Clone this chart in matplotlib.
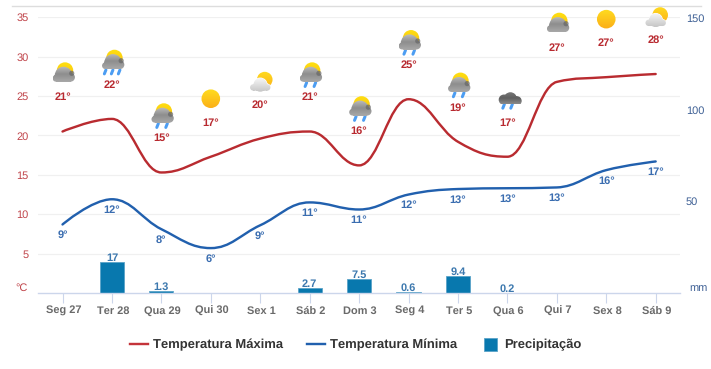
import numpy as np
import matplotlib
matplotlib.use("Agg")
import matplotlib.pyplot as plt
from matplotlib.colors import LinearSegmentedColormap
from matplotlib.lines import Line2D
from matplotlib.patches import Circle, PathPatch
from matplotlib.path import Path
from matplotlib.transforms import Affine2D

days = ["Seg 27", "Ter 28", "Qua 29", "Qui 30", "Sex 1", "Sáb 2", "Dom 3",
        "Seg 4", "Ter 5", "Qua 6", "Qui 7", "Sex 8", "Sáb 9"]
temp_max = [20.5, 22.1, 15.3, 17.3, 19.6, 20.5, 16.2, 24.6, 19.2, 17.3, 26.8, 27.4, 27.8]
temp_min = [8.7, 11.9, 8.1, 5.7, 8.6, 11.5, 10.6, 12.5, 13.2, 13.3, 13.4, 15.6, 16.7]
label_max = [21, 22, 15, 17, 20, 21, 16, 25, 19, 17, 27, 27, 28]
label_min = [9, 12, 8, 6, 9, 11, 11, 12, 13, 13, 13, 16, 17]
precip = [0, 17, 1.3, 0, 0, 2.7, 7.5, 0.6, 9.4, 0.2, 0, 0, 0]
precip_labels = ["", "17", "1.3", "", "", "2.7", "7.5", "0.6", "9.4", "0.2", "", "", ""]
icons = ["gray", "rain3", "rain2", "sun", "white", "rain2", "rain2",
         "rain2", "rain2", "dark", "gray", "sun", "white"]
temp_ticks = [5, 10, 15, 20, 25, 30, 35]
precip_ticks = [50, 100, 150]

RED = "#b92b30"
BLUE = "#2160ae"
BAR = "#0878ae"
W, H = 711, 369
PX = 0.72
FONT = "Liberation Sans"
plt.rcParams["font.family"] = [FONT, "DejaVu Sans"]
plt.rcParams["text.hinting"] = "no_hinting"
plt.rcParams["text.hinting_factor"] = 1


def spline(xs, ys):
    """Highcharts-like bezier spline through the points."""
    n = len(xs)
    lc, rc = [None] * n, [None] * n
    for i in range(1, n - 1):
        x, y = xs[i], ys[i]
        lx, ly = (1.5 * x + xs[i - 1]) / 2.5, (1.5 * y + ys[i - 1]) / 2.5
        rx, ry = (1.5 * x + xs[i + 1]) / 2.5, (1.5 * y + ys[i + 1]) / 2.5
        c = (ry - ly) * (rx - x) / (rx - lx) + y - ry
        ly += c
        ry += c
        if ly > ys[i - 1] and ly > y:
            ly = max(ys[i - 1], y)
            ry = 2 * y - ly
        elif ly < ys[i - 1] and ly < y:
            ly = min(ys[i - 1], y)
            ry = 2 * y - ly
        if ry > ys[i + 1] and ry > y:
            ry = max(ys[i + 1], y)
            ly = 2 * y - ry
        elif ry < ys[i + 1] and ry < y:
            ry = min(ys[i + 1], y)
            ly = 2 * y - ry
        lc[i], rc[i] = (lx, ly), (rx, ry)
    verts = [(xs[0], ys[0])]
    codes = [Path.MOVETO]
    for i in range(1, n):
        a = rc[i - 1] if rc[i - 1] else (xs[i - 1], ys[i - 1])
        b = lc[i] if lc[i] else (xs[i], ys[i])
        verts += [a, b, (xs[i], ys[i])]
        codes += [Path.CURVE4] * 3
    return Path(verts, codes)


fig = plt.figure(figsize=(W / 100, H / 100), dpi=100, facecolor="white")
ax = fig.add_axes([37.8 / W, (H - 293) / H, (680.4 - 37.8) / W, (293 - 17.3) / H])
ax2 = ax.twinx()
ax.set_zorder(2)
ax2.set_zorder(1)
ax.patch.set_visible(False)
ax2.patch.set_visible(False)
x = np.arange(len(days))

# axes
ax.set_xlim(-0.5, len(days) - 0.5)
ax.set_ylim(0, 35)
ax.set_autoscale_on(False)
ax2.set_ylim(0, 150.2)
for a in (ax, ax2):
    for s in a.spines.values():
        s.set_visible(False)
ax.spines["bottom"].set_visible(True)
ax.spines["bottom"].set_color("#ccd6eb")
ax.spines["bottom"].set_linewidth(1.0)
ax.set_xticks(x, days)
ax.tick_params(axis="x", length=10 * PX, width=0.8, color="#ccd6eb", pad=2.2,
               labelsize=10.7 * PX, labelcolor="#6a6a6a")
for t in ax.get_xticklabels():
    t.set_fontweight("bold")
    t.set_transform(t.get_transform() + Affine2D().translate(1, 0))
ax.set_yticks(temp_ticks)
ax.tick_params(axis="y", length=0, pad=(37.8 - 28.5) * PX, labelsize=11.5 * PX, labelcolor="#c0444a")
ax.grid(axis="y", color="#f0f0f0", lw=0.9)
ax.set_axisbelow(True)
ax2.set_yticks(precip_ticks)
ax2.tick_params(axis="y", length=0, pad=(685.8 - 680.4) * PX, labelsize=11.5 * PX, labelcolor="#3d5f94")
ax.annotate("°C", (-0.5, 0), xytext=(-10.5, 5), textcoords="offset pixels", ha="right", va="center",
            fontsize=11.5 * PX, color="#c0444a", annotation_clip=False)
ax.annotate("mm", (len(days) - 0.5, 0), xytext=(8.5, 5), textcoords="offset pixels", ha="left", va="center",
            fontsize=11.5 * PX, color="#3d5f94", annotation_clip=False)

# series
ax2.bar(x, precip, width=0.49, color=BAR, edgecolor="#5aa3c8", linewidth=0.6)
ax.add_patch(PathPatch(spline(x, temp_max), fc="none", ec=RED, lw=2.4 * PX, capstyle="round", zorder=4))
ax.add_patch(PathPatch(spline(x, temp_min), fc="none", ec=BLUE, lw=2.4 * PX, capstyle="round", zorder=4))

# data labels
for i in x:
    ax.annotate(f"{label_max[i]}°", (i, temp_max[i]), xytext=(0, 34), textcoords="offset pixels",
                ha="center", va="center", fontsize=10.6 * PX, fontweight="bold", color="#b8292f",
                annotation_clip=False, zorder=5)
    ax.annotate(f"{label_min[i]}°", (i, temp_min[i]), xytext=(0, -11), textcoords="offset pixels",
                ha="center", va="center", fontsize=10.6 * PX, fontweight="bold", color="#3a6db0",
                annotation_clip=False, zorder=5)
    if precip_labels[i]:
        ax.annotate(precip_labels[i], (i, precip[i]), xycoords=ax2.transData, xytext=(0, 4),
                    textcoords="offset pixels", ha="center", va="center", fontsize=10.6 * PX,
                    fontweight="bold", color="#3c78ae", annotation_clip=False, zorder=5)


# weather icons (drawn in pixels around each day's maximum temperature point)
def gradient(tf, clip, extent, colors, z):
    cm = LinearSegmentedColormap.from_list("g", colors)
    im = ax.imshow(np.linspace(0, 1, 32)[:, None], cmap=cm, extent=extent, aspect="auto", origin="upper",
                   transform=tf, zorder=z, interpolation="bilinear", vmin=0, vmax=1)
    im.set_clip_box(fig.bbox)
    im.set_clip_path(clip, tf)


def cloud_path(lobes, x0, x1, bottom, top):
    parts = [Path.circle((a, b), r) for a, b, r in lobes]
    parts.append(Path([(x0, bottom), (x1, bottom), (x1, top), (x0, top), (x0, bottom)], closed=True))
    return Path.make_compound_path(*parts)


def draw_icon(kind, i, y):
    px, py = ax.transData.transform((i, y))
    tf = Affine2D().translate(px, py + 58)
    if kind == "sun":
        gradient(tf, Path.circle((0, 0), 9.3), (-10, 10, -10, 10), ["#ffdc20", "#fbae18"], 6)
        return
    if kind == "white":
        gradient(tf, Path.circle((4.5, 1), 7.8), (-4, 13, -8, 10), ["#ffdc20", "#fbb01a"], 6)
        p = cloud_path([(0, -4.3, 6.8), (-7, -6.8, 3.2), (7, -6.8, 3.2)], -7, 7, -10, -6)
        ax.add_patch(PathPatch(p, fc="white", ec="white", lw=0.8, transform=tf, zorder=6.5, clip_on=False))
        gradient(tf, p, (-11, 11, -11, 3), ["#f6f6f6", "#c6c6c6"], 7)
        return
    if kind == "dark":
        p = cloud_path([(-3.5, -1, 5.2), (3, 0, 6.5), (9.5, -2.2, 4.8)], -5, 10, -4.5, -1)
        gradient(tf, p, (-12, 15, -5, 7), ["#777777", "#5f5f5f", "#8a8a8a"], 7)
        drops = [-4, 4]
        top = -4.5
    else:
        gradient(tf, Path.circle((2.5, 3), 8.2), (-7, 12, -8, 12), ["#ffe010", "#f8b810"], 6)
        p = cloud_path([(1, -2, 8.8), (-6.5, -4.8, 3.4), (8, -3.8, 4.4)], -6, 8, -8, -4)
        gradient(tf, p, (-10, 13, -8.5, 7), ["#bdbdbd", "#8d8d8d", "#a8a8a8"], 7)
        ax.add_patch(Circle((9.2, 0.2), 2.6, fc="#666666", ec="none", alpha=0.7, transform=tf, zorder=7.5, clip_on=False))
        if kind == "gray":
            return
        drops = [-7, 0, 7] if kind == "rain3" else [-4, 5]
        top = -8
    for d in drops:
        ax.add_line(Line2D([d + 1, d - 0.6], [top - 1, top - 5], color="#4c9df2", lw=3 * PX,
                           solid_capstyle="round", transform=tf, zorder=6, clip_on=False))


for i in x:
    draw_icon(icons[i], i, temp_max[i])

# frame rule on top
fig.add_artist(Line2D([12 / W, 701 / W], [(H - 6) / H] * 2, color="#dddddd", lw=1.0))

# legend
handles = [
    Line2D([], [], color="#c4343a", lw=2.4 * PX),
    Line2D([], [], color=BLUE, lw=2.4 * PX),
    Line2D([], [], ls="none", marker="s", ms=13 * PX, mfc=BAR, mec="#5aa3c8", mew=0.6),
]
leg = fig.legend(handles, ["Temperatura Máxima", "Temperatura Mínima", "Precipitação"],
                 loc="center", bbox_to_anchor=(356 / W, (H - 345) / H), ncol=3, frameon=False,
                 prop={"family": FONT, "weight": "bold", "size": 13.4 * PX},
                 labelcolor="#333333", handlelength=1.3, handletextpad=0.4, columnspacing=1.8,
                 borderpad=0, borderaxespad=0)

fig.savefig("out.png", dpi=100)
